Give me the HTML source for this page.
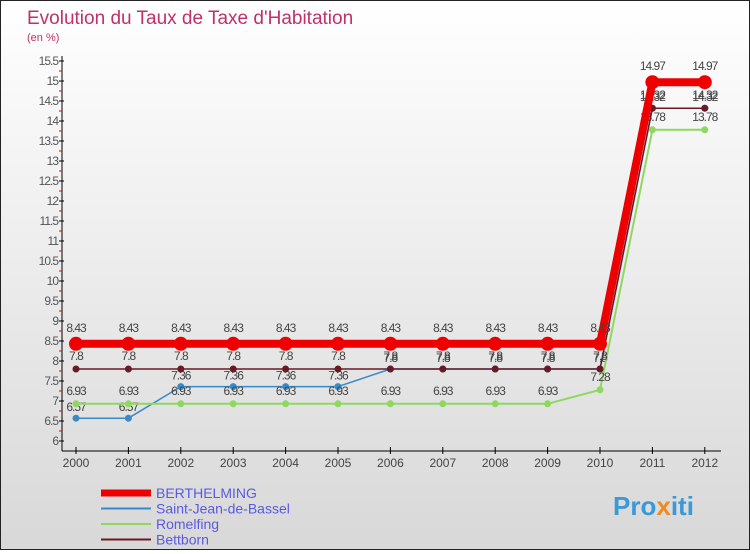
<!DOCTYPE html>
<html><head><meta charset="utf-8"><style>
body{margin:0}
#c{width:748px;height:548px;border:1px solid #222;background:linear-gradient(#fff,#d8d8d8);position:relative;font-family:"Liberation Sans",sans-serif}
</style></head><body>
<div id="c">
<svg id="s" width="748" height="548" xmlns="http://www.w3.org/2000/svg">
<text x="26" y="23" font-size="19" fill="#c0306a">Evolution du Taux de Taxe d'Habitation</text>
<text x="26" y="40" font-size="11" fill="#c0306a">(en %)</text>
<text x="612" y="514" font-size="26" font-weight="bold" fill="#3a9ad9">Pro<tspan fill="#f08a20">x</tspan>iti</text>
</svg></div>
<script>
const years=[2000,2001,2002,2003,2004,2005,2006,2007,2008,2009,2010,2011,2012];
const berthelming=[8.43,8.43,8.43,8.43,8.43,8.43,8.43,8.43,8.43,8.43,8.43,14.97,14.97];
const saintJean=[6.57,6.57,7.36,7.36,7.36,7.36,7.8,7.8,7.8,7.8,7.8,14.32,14.32];
const romelfing=[6.93,6.93,6.93,6.93,6.93,6.93,6.93,6.93,6.93,6.93,7.28,13.78,13.78];
const bettborn=[7.8,7.8,7.8,7.8,7.8,7.8,7.8,7.8,7.8,7.8,7.8,14.32,14.32];
const yTicks=[6,6.5,7,7.5,8,8.5,9,9.5,10,10.5,11,11.5,12,12.5,13,13.5,14,14.5,15,15.5];
const seriesNames=["BERTHELMING","Saint-Jean-de-Bassel","Romelfing","Bettborn"];
const NS="http://www.w3.org/2000/svg",s=document.getElementById('s');
const X=i=>75+i*52.4, Y=v=>440-(v-6)*40;
function el(t,a,p){const e=document.createElementNS(NS,t);for(const k in a)e.setAttribute(k,a[k]);(p||s).appendChild(e);return e;}
function txt(x,y,str,a,p){const e=el('text',Object.assign({x:x,y:y,'font-size':12,fill:'#444'},a),p);e.textContent=str;return e;}
let ax=el('line',{x1:61,y1:55,x2:61,y2:450,stroke:'#000'});


let xa=el('line',{x1:61,y1:450,x2:720,y2:450,stroke:'#000'});


yTicks.forEach(v=>{el('line',{x1:58,y1:Y(v),x2:63,y2:Y(v),stroke:'#000'});
 if(v<15.5)el('line',{x1:58,y1:Y(v+0.25),x2:61,y2:Y(v+0.25),stroke:'#e00'});
 const t=txt(57,Y(v)+4,String(v),{'text-anchor':'end',fill:'#555','letter-spacing':'-1'});
 
 });
years.forEach((y,i)=>{el('line',{x1:X(i),y1:446,x2:X(i),y2:453,stroke:'#000'});
 const t=txt(X(i),466,String(y),{'text-anchor':'middle',fill:'#444'});
 
 });
function series(d,col,w,r,name,lab,dy){
 const g=el('g',{});
 
 
 el('polyline',{points:d.map((v,i)=>X(i)+','+Y(v)).join(' '),fill:'none',stroke:col,'stroke-width':w},g);
 d.forEach((v,i)=>{const c=el('circle',{cx:X(i),cy:Y(v),r:r,fill:col},g);
  
  
  if(lab)txt(X(i),Y(v)+dy,String(v),{'text-anchor':'middle',fill:'#444','letter-spacing':'-1'},g);});
}
series(saintJean,'#3a8ac8',1.5,3.5,'series-saint-jean',true,-7);
series(romelfing,'#8fd860',2,3.5,'series-romelfing',true,-9);
series(bettborn,'#6a1a24',1.5,3.5,'series-bettborn',true,-9);
series(berthelming,'#ee0000',8,7,'series-berthelming',true,-12);
const cols=['#ee0000','#3a8ac8','#8fd860','#6a1a24'],ws=[7,2,2,2];
seriesNames.forEach((n,i)=>{const y=492+i*15.5;
 el('line',{x1:100,y1:y,x2:150,y2:y,stroke:cols[i],'stroke-width':ws[i]});
 const t=txt(155,y+5,n,{'font-size':14,fill:'#5a5ae0'});
 
 });
</script></body></html>
